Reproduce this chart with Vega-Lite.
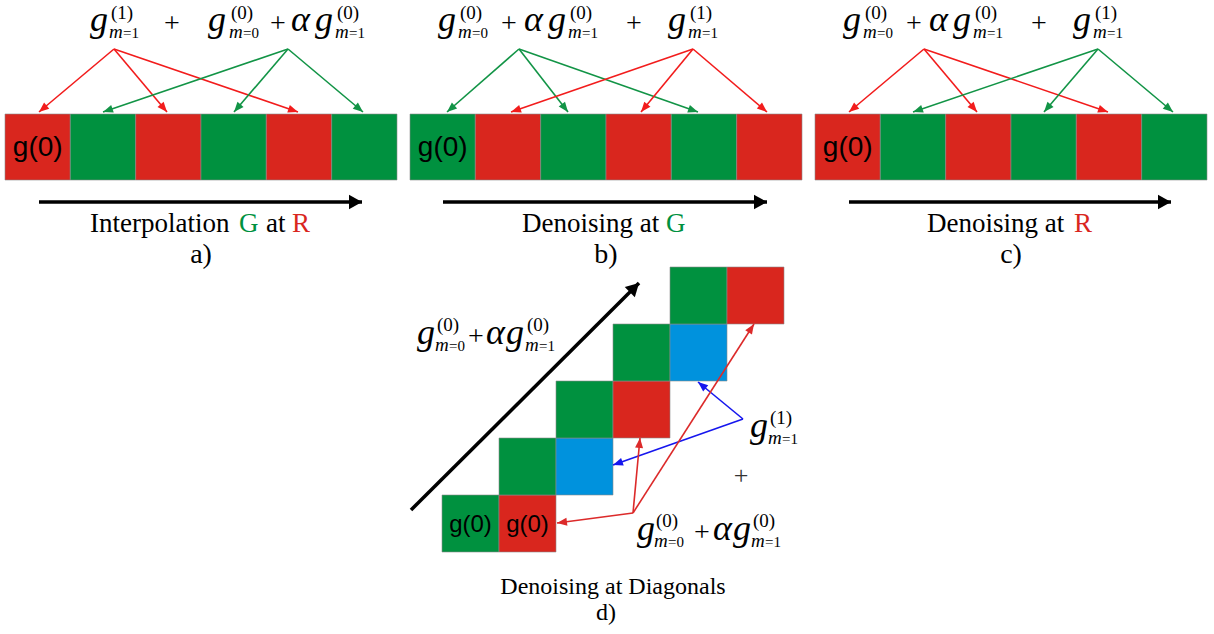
{
  "$schema": "https://vega.github.io/schema/vega-lite/v6.json",
  "width": 1214,
  "height": 634,
  "padding": 0,
  "autosize": {"type": "none"},
  "background": "white",
  "config": {"view": {"stroke": null}},
  "datasets": {
    "cells": [
      {"x": 5, "x2": 70.3, "y": 114, "y2": 180, "c": "R"},
      {"x": 70.3, "x2": 135.7, "y": 114, "y2": 180, "c": "G"},
      {"x": 135.7, "x2": 201, "y": 114, "y2": 180, "c": "R"},
      {"x": 201, "x2": 266.3, "y": 114, "y2": 180, "c": "G"},
      {"x": 266.3, "x2": 331.7, "y": 114, "y2": 180, "c": "R"},
      {"x": 331.7, "x2": 397, "y": 114, "y2": 180, "c": "G"},
      {"x": 410, "x2": 475.3, "y": 114, "y2": 180, "c": "G"},
      {"x": 475.3, "x2": 540.7, "y": 114, "y2": 180, "c": "R"},
      {"x": 540.7, "x2": 606, "y": 114, "y2": 180, "c": "G"},
      {"x": 606, "x2": 671.3, "y": 114, "y2": 180, "c": "R"},
      {"x": 671.3, "x2": 736.7, "y": 114, "y2": 180, "c": "G"},
      {"x": 736.7, "x2": 802, "y": 114, "y2": 180, "c": "R"},
      {"x": 815, "x2": 880.3, "y": 114, "y2": 180, "c": "R"},
      {"x": 880.3, "x2": 945.7, "y": 114, "y2": 180, "c": "G"},
      {"x": 945.7, "x2": 1011, "y": 114, "y2": 180, "c": "R"},
      {"x": 1011, "x2": 1076.3, "y": 114, "y2": 180, "c": "G"},
      {"x": 1076.3, "x2": 1141.7, "y": 114, "y2": 180, "c": "R"},
      {"x": 1141.7, "x2": 1207, "y": 114, "y2": 180, "c": "G"},
      {"x": 442, "x2": 499, "y": 495, "y2": 552, "c": "G"},
      {"x": 499, "x2": 556, "y": 495, "y2": 552, "c": "R"},
      {"x": 499, "x2": 556, "y": 438, "y2": 495, "c": "G"},
      {"x": 556, "x2": 613, "y": 438, "y2": 495, "c": "B"},
      {"x": 556, "x2": 613, "y": 381, "y2": 438, "c": "G"},
      {"x": 613, "x2": 670, "y": 381, "y2": 438, "c": "R"},
      {"x": 613, "x2": 670, "y": 324, "y2": 381, "c": "G"},
      {"x": 670, "x2": 727, "y": 324, "y2": 381, "c": "B"},
      {"x": 670, "x2": 727, "y": 267, "y2": 324, "c": "G"},
      {"x": 727, "x2": 784, "y": 267, "y2": 324, "c": "R"}
    ],
    "arrows": [
      {"x": 114, "y": 49, "x2": 39, "y2": 112, "c": "lr", "kind": "thin"},
      {"x": 114, "y": 49, "x2": 167, "y2": 112, "c": "lr", "kind": "thin"},
      {"x": 114, "y": 49, "x2": 298, "y2": 112, "c": "lr", "kind": "thin"},
      {"x": 288, "y": 49, "x2": 103, "y2": 112, "c": "lg", "kind": "thin"},
      {"x": 288, "y": 49, "x2": 234, "y2": 112, "c": "lg", "kind": "thin"},
      {"x": 288, "y": 49, "x2": 363, "y2": 112, "c": "lg", "kind": "thin"},
      {"x": 519, "y": 49, "x2": 447, "y2": 112, "c": "lg", "kind": "thin"},
      {"x": 519, "y": 49, "x2": 568, "y2": 112, "c": "lg", "kind": "thin"},
      {"x": 519, "y": 49, "x2": 698, "y2": 112, "c": "lg", "kind": "thin"},
      {"x": 693, "y": 49, "x2": 511, "y2": 112, "c": "lr", "kind": "thin"},
      {"x": 693, "y": 49, "x2": 641, "y2": 112, "c": "lr", "kind": "thin"},
      {"x": 693, "y": 49, "x2": 767, "y2": 112, "c": "lr", "kind": "thin"},
      {"x": 924, "y": 49, "x2": 849, "y2": 112, "c": "lr", "kind": "thin"},
      {"x": 924, "y": 49, "x2": 977, "y2": 112, "c": "lr", "kind": "thin"},
      {"x": 924, "y": 49, "x2": 1108, "y2": 112, "c": "lr", "kind": "thin"},
      {"x": 1098, "y": 49, "x2": 913, "y2": 112, "c": "lg", "kind": "thin"},
      {"x": 1098, "y": 49, "x2": 1044, "y2": 112, "c": "lg", "kind": "thin"},
      {"x": 1098, "y": 49, "x2": 1173, "y2": 112, "c": "lg", "kind": "thin"},
      {"x": 743, "y": 419, "x2": 698, "y2": 382, "c": "lb", "kind": "thin"},
      {"x": 743, "y": 419, "x2": 613, "y2": 465, "c": "lb", "kind": "thin"},
      {"x": 633, "y": 513, "x2": 557, "y2": 523, "c": "ldr", "kind": "thin"},
      {"x": 633, "y": 513, "x2": 640, "y2": 438, "c": "ldr", "kind": "thin"},
      {"x": 633, "y": 513, "x2": 754, "y2": 324, "c": "ldr", "kind": "thin"},
      {"x": 39, "y": 202, "x2": 362, "y2": 202, "c": "k", "kind": "thick"},
      {"x": 443, "y": 202, "x2": 767, "y2": 202, "c": "k", "kind": "thick"},
      {"x": 849, "y": 202, "x2": 1171, "y2": 202, "c": "k", "kind": "thick"},
      {"x": 411, "y": 510, "x2": 639, "y2": 283, "c": "k", "kind": "thick"}
    ],
    "texts": [
      {"t": "g", "x": 90, "y": 31, "role": "gi"},
      {"t": "(1)", "x": 111, "y": 19, "role": "sup"},
      {"t": "m", "x": 109, "y": 38, "role": "subi"},
      {"t": "=1", "x": 123, "y": 38, "role": "sub"},
      {"t": "+", "x": 164, "y": 32, "role": "op"},
      {"t": "g", "x": 208, "y": 31, "role": "gi"},
      {"t": "(0)", "x": 231, "y": 19, "role": "sup"},
      {"t": "m", "x": 229, "y": 38, "role": "subi"},
      {"t": "=0", "x": 243, "y": 38, "role": "sub"},
      {"t": "+", "x": 270, "y": 32, "role": "op"},
      {"t": "α", "x": 291, "y": 31, "role": "gi"},
      {"t": "g", "x": 315, "y": 31, "role": "gi"},
      {"t": "(0)", "x": 337, "y": 19, "role": "sup"},
      {"t": "m", "x": 335, "y": 38, "role": "subi"},
      {"t": "=1", "x": 349, "y": 38, "role": "sub"},

      {"t": "g", "x": 438, "y": 31, "role": "gi"},
      {"t": "(0)", "x": 460, "y": 19, "role": "sup"},
      {"t": "m", "x": 458, "y": 38, "role": "subi"},
      {"t": "=0", "x": 472, "y": 38, "role": "sub"},
      {"t": "+", "x": 501, "y": 32, "role": "op"},
      {"t": "α", "x": 524, "y": 31, "role": "gi"},
      {"t": "g", "x": 548, "y": 31, "role": "gi"},
      {"t": "(0)", "x": 570, "y": 19, "role": "sup"},
      {"t": "m", "x": 568, "y": 38, "role": "subi"},
      {"t": "=1", "x": 582, "y": 38, "role": "sub"},
      {"t": "+", "x": 626, "y": 32, "role": "op"},
      {"t": "g", "x": 668, "y": 31, "role": "gi"},
      {"t": "(1)", "x": 690, "y": 19, "role": "sup"},
      {"t": "m", "x": 688, "y": 38, "role": "subi"},
      {"t": "=1", "x": 702, "y": 38, "role": "sub"},

      {"t": "g", "x": 843, "y": 31, "role": "gi"},
      {"t": "(0)", "x": 865, "y": 19, "role": "sup"},
      {"t": "m", "x": 863, "y": 38, "role": "subi"},
      {"t": "=0", "x": 877, "y": 38, "role": "sub"},
      {"t": "+", "x": 906, "y": 32, "role": "op"},
      {"t": "α", "x": 929, "y": 31, "role": "gi"},
      {"t": "g", "x": 953, "y": 31, "role": "gi"},
      {"t": "(0)", "x": 975, "y": 19, "role": "sup"},
      {"t": "m", "x": 973, "y": 38, "role": "subi"},
      {"t": "=1", "x": 987, "y": 38, "role": "sub"},
      {"t": "+", "x": 1031, "y": 32, "role": "op"},
      {"t": "g", "x": 1073, "y": 31, "role": "gi"},
      {"t": "(1)", "x": 1095, "y": 19, "role": "sup"},
      {"t": "m", "x": 1093, "y": 38, "role": "subi"},
      {"t": "=1", "x": 1107, "y": 38, "role": "sub"},

      {"t": "g", "x": 417, "y": 344, "role": "gi"},
      {"t": "(0)", "x": 437, "y": 331, "role": "sup"},
      {"t": "m", "x": 435, "y": 351, "role": "subi"},
      {"t": "=0", "x": 449, "y": 351, "role": "sub"},
      {"t": "+", "x": 468, "y": 345, "role": "op"},
      {"t": "α", "x": 486, "y": 344, "role": "gi"},
      {"t": "g", "x": 506, "y": 344, "role": "gi"},
      {"t": "(0)", "x": 527, "y": 331, "role": "sup"},
      {"t": "m", "x": 525, "y": 351, "role": "subi"},
      {"t": "=1", "x": 539, "y": 351, "role": "sub"},

      {"t": "g", "x": 637, "y": 540, "role": "gi"},
      {"t": "(0)", "x": 656, "y": 527, "role": "sup"},
      {"t": "m", "x": 654, "y": 547, "role": "subi"},
      {"t": "=0", "x": 668, "y": 547, "role": "sub"},
      {"t": "+", "x": 694, "y": 541, "role": "op"},
      {"t": "α", "x": 713, "y": 540, "role": "gi"},
      {"t": "g", "x": 733, "y": 540, "role": "gi"},
      {"t": "(0)", "x": 753, "y": 527, "role": "sup"},
      {"t": "m", "x": 751, "y": 547, "role": "subi"},
      {"t": "=1", "x": 765, "y": 547, "role": "sub"},

      {"t": "g", "x": 750, "y": 437, "role": "gi"},
      {"t": "(1)", "x": 770, "y": 424, "role": "sup"},
      {"t": "m", "x": 768, "y": 444, "role": "subi"},
      {"t": "=1", "x": 782, "y": 444, "role": "sub"},

      {"t": "+", "x": 741, "y": 484, "role": "opd"},

      {"t": "Interpolation", "x": 90, "y": 232, "role": "lab", "c": "k"},
      {"t": "G", "x": 239, "y": 232, "role": "lab", "c": "G"},
      {"t": "at", "x": 266, "y": 232, "role": "lab", "c": "k"},
      {"t": "R", "x": 292, "y": 232, "role": "lab", "c": "R"},
      {"t": "Denoising at", "x": 522, "y": 232, "role": "lab", "c": "k"},
      {"t": "G", "x": 666, "y": 232, "role": "lab", "c": "G"},
      {"t": "Denoising at", "x": 927, "y": 232, "role": "lab", "c": "k"},
      {"t": "R", "x": 1074, "y": 232, "role": "lab", "c": "R"},

      {"t": "a)", "x": 201, "y": 263, "role": "let"},
      {"t": "b)", "x": 606, "y": 263, "role": "let"},
      {"t": "c)", "x": 1011, "y": 263, "role": "let"},

      {"t": "Denoising at Diagonals", "x": 613, "y": 594, "role": "dlab"},
      {"t": "d)", "x": 606, "y": 620, "role": "dlab"},

      {"t": "g(0)", "x": 37.7, "y": 156, "role": "g0"},
      {"t": "g(0)", "x": 442.7, "y": 156, "role": "g0"},
      {"t": "g(0)", "x": 847.7, "y": 156, "role": "g0"},
      {"t": "g(0)", "x": 470.5, "y": 532, "role": "g0d"},
      {"t": "g(0)", "x": 527.5, "y": 532, "role": "g0d"}
    ]
  },
  "encoding": {
    "x": {"field": "x", "type": "quantitative", "scale": {"domain": [0, 1214], "nice": false, "zero": false}, "axis": null},
    "y": {"field": "y", "type": "quantitative", "scale": {"domain": [0, 634], "nice": false, "zero": false, "reverse": true}, "axis": null}
  },
  "layer": [
    {
      "data": {"name": "cells"},
      "mark": {"type": "rect", "stroke": "#8a8a8a", "strokeWidth": 0.6},
      "encoding": {
        "x2": {"field": "x2"},
        "y2": {"field": "y2"},
        "color": {"field": "c", "type": "nominal", "legend": null,
          "scale": {"domain": ["R", "G", "B", "lr", "lg", "lb", "ldr", "k"], "range": ["#D9261E", "#00913F", "#0092DD", "#F21C1C", "#129446", "#1616EE", "#DC2A2A", "#000000"]}}
      }
    },
    {
      "data": {"name": "arrows"},
      "transform": [{"filter": "datum.kind == 'thin'"}],
      "mark": {"type": "rule", "strokeWidth": 1.6},
      "encoding": {
        "x2": {"field": "x2"},
        "y2": {"field": "y2"},
        "color": {"field": "c", "type": "nominal", "legend": null,
          "scale": {"domain": ["R", "G", "B", "lr", "lg", "lb", "ldr", "k"], "range": ["#D9261E", "#00913F", "#0092DD", "#F21C1C", "#129446", "#1616EE", "#DC2A2A", "#000000"]}}
      }
    },
    {
      "data": {"name": "arrows"},
      "transform": [{"filter": "datum.kind == 'thick'"}],
      "mark": {"type": "rule", "strokeWidth": 3.5},
      "encoding": {
        "x2": {"field": "x2"},
        "y2": {"field": "y2"},
        "color": {"field": "c", "type": "nominal", "legend": null,
          "scale": {"domain": ["R", "G", "B", "lr", "lg", "lb", "ldr", "k"], "range": ["#D9261E", "#00913F", "#0092DD", "#F21C1C", "#129446", "#1616EE", "#DC2A2A", "#000000"]}}
      }
    },
    {
      "data": {"name": "arrows"},
      "transform": [
        {"filter": "datum.kind == 'thin'"},
        {"calculate": "atan2(datum.x2 - datum.x, datum.y - datum.y2) * 180 / PI", "as": "ang"}
      ],
      "mark": {"type": "point", "shape": "M0,0L-0.4,1L0.4,1Z", "filled": true, "size": 400, "opacity": 1, "strokeWidth": 0},
      "encoding": {
        "x": {"field": "x2", "type": "quantitative", "scale": {"domain": [0, 1214], "nice": false, "zero": false}, "axis": null},
        "y": {"field": "y2", "type": "quantitative", "scale": {"domain": [0, 634], "nice": false, "zero": false, "reverse": true}, "axis": null},
        "angle": {"field": "ang", "type": "quantitative", "scale": null},
        "color": {"field": "c", "type": "nominal", "legend": null,
          "scale": {"domain": ["R", "G", "B", "lr", "lg", "lb", "ldr", "k"], "range": ["#D9261E", "#00913F", "#0092DD", "#F21C1C", "#129446", "#1616EE", "#DC2A2A", "#000000"]}}
      }
    },
    {
      "data": {"name": "arrows"},
      "transform": [
        {"filter": "datum.kind == 'thick'"},
        {"calculate": "atan2(datum.x2 - datum.x, datum.y - datum.y2) * 180 / PI", "as": "ang"}
      ],
      "mark": {"type": "point", "shape": "M0,0L-0.55,1L0.55,1Z", "filled": true, "size": 676, "opacity": 1, "strokeWidth": 0},
      "encoding": {
        "x": {"field": "x2", "type": "quantitative", "scale": {"domain": [0, 1214], "nice": false, "zero": false}, "axis": null},
        "y": {"field": "y2", "type": "quantitative", "scale": {"domain": [0, 634], "nice": false, "zero": false, "reverse": true}, "axis": null},
        "angle": {"field": "ang", "type": "quantitative", "scale": null},
        "color": {"field": "c", "type": "nominal", "legend": null,
          "scale": {"domain": ["R", "G", "B", "lr", "lg", "lb", "ldr", "k"], "range": ["#D9261E", "#00913F", "#0092DD", "#F21C1C", "#129446", "#1616EE", "#DC2A2A", "#000000"]}}
      }
    },
    {
      "data": {"name": "texts"},
      "transform": [{"filter": "datum.role == 'gi'"}],
      "mark": {"type": "text", "font": "Liberation Serif", "fontStyle": "italic", "fontSize": 36, "align": "left", "baseline": "alphabetic", "color": "#000"},
      "encoding": {"text": {"field": "t"}}
    },
    {
      "data": {"name": "texts"},
      "transform": [{"filter": "datum.role == 'sup'"}],
      "mark": {"type": "text", "font": "Liberation Serif", "fontSize": 19, "align": "left", "baseline": "alphabetic", "color": "#000"},
      "encoding": {"text": {"field": "t"}}
    },
    {
      "data": {"name": "texts"},
      "transform": [{"filter": "datum.role == 'subi'"}],
      "mark": {"type": "text", "font": "Liberation Serif", "fontStyle": "italic", "fontSize": 19, "align": "left", "baseline": "alphabetic", "color": "#000"},
      "encoding": {"text": {"field": "t"}}
    },
    {
      "data": {"name": "texts"},
      "transform": [{"filter": "datum.role == 'sub'"}],
      "mark": {"type": "text", "font": "Liberation Serif", "fontSize": 15, "align": "left", "baseline": "alphabetic", "color": "#000"},
      "encoding": {"text": {"field": "t"}}
    },
    {
      "data": {"name": "texts"},
      "transform": [{"filter": "datum.role == 'op'"}],
      "mark": {"type": "text", "font": "Liberation Serif", "fontSize": 28, "align": "left", "baseline": "alphabetic", "color": "#000"},
      "encoding": {"text": {"field": "t"}}
    },
    {
      "data": {"name": "texts"},
      "transform": [{"filter": "datum.role == 'opd'"}],
      "mark": {"type": "text", "font": "Liberation Serif", "fontSize": 26, "align": "center", "baseline": "alphabetic", "color": "#333333"},
      "encoding": {"text": {"field": "t"}}
    },
    {
      "data": {"name": "texts"},
      "transform": [{"filter": "datum.role == 'lab'"}],
      "mark": {"type": "text", "font": "Liberation Serif", "fontSize": 27, "align": "left", "baseline": "alphabetic"},
      "encoding": {
        "text": {"field": "t"},
        "color": {"field": "c", "type": "nominal", "legend": null,
          "scale": {"domain": ["R", "G", "B", "lr", "lg", "lb", "ldr", "k"], "range": ["#D9261E", "#00913F", "#0092DD", "#F21C1C", "#129446", "#1616EE", "#DC2A2A", "#000000"]}}
      }
    },
    {
      "data": {"name": "texts"},
      "transform": [{"filter": "datum.role == 'let'"}],
      "mark": {"type": "text", "font": "Liberation Serif", "fontSize": 28, "align": "center", "baseline": "alphabetic", "color": "#000"},
      "encoding": {"text": {"field": "t"}}
    },
    {
      "data": {"name": "texts"},
      "transform": [{"filter": "datum.role == 'dlab'"}],
      "mark": {"type": "text", "font": "Liberation Serif", "fontSize": 24, "align": "center", "baseline": "alphabetic", "color": "#000"},
      "encoding": {"text": {"field": "t"}}
    },
    {
      "data": {"name": "texts"},
      "transform": [{"filter": "datum.role == 'g0'"}],
      "mark": {"type": "text", "font": "Liberation Sans", "fontSize": 28, "align": "center", "baseline": "alphabetic", "color": "#000"},
      "encoding": {"text": {"field": "t"}}
    },
    {
      "data": {"name": "texts"},
      "transform": [{"filter": "datum.role == 'g0d'"}],
      "mark": {"type": "text", "font": "Liberation Sans", "fontSize": 24, "align": "center", "baseline": "alphabetic", "color": "#000"},
      "encoding": {"text": {"field": "t"}}
    }
  ]
}
